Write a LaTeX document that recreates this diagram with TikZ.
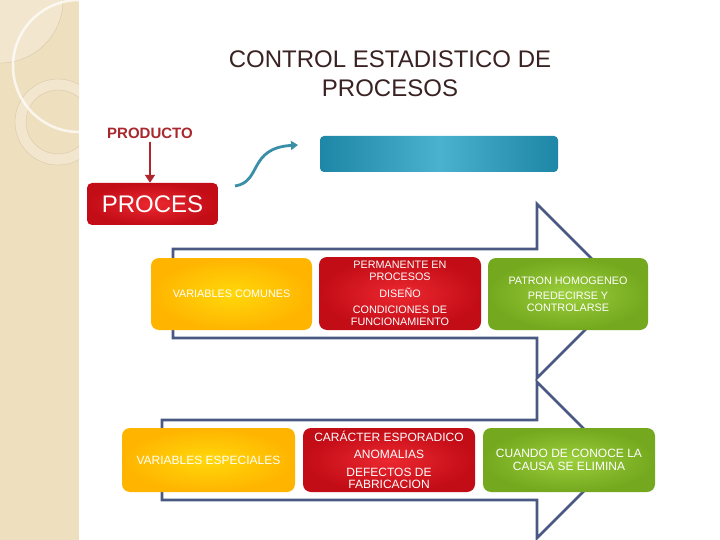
\documentclass[tikz,border=0pt]{standalone}
\usepackage{fontspec}
\setmainfont{Liberation Sans}
\usetikzlibrary{arrows.meta,shapes.misc}
\definecolor{strip}{HTML}{EEDFBF}
\definecolor{stripl}{HTML}{F2E6CE}
\definecolor{stripline}{HTML}{D9C8A8}
\definecolor{titlec}{HTML}{3B2222}
\definecolor{prodc}{HTML}{A8282E}
\definecolor{arrred}{HTML}{B0262E}
\definecolor{teal}{HTML}{3A8FA8}
\definecolor{tealdark}{HTML}{1E86A6}
\definecolor{teallight}{HTML}{4AB2CE}
\definecolor{navy}{HTML}{4A5884}
\definecolor{yin}{HTML}{FFD80A}
\definecolor{yout}{HTML}{FFB400}
\definecolor{rin}{HTML}{EC2830}
\definecolor{rout}{HTML}{C20C16}
\definecolor{gin}{HTML}{9CCF3C}
\definecolor{gout}{HTML}{74A81E}
\tikzset{
  card/.style={rounded corners=8pt, inner sep=0pt, align=center, text=white},
  ybox/.style={card, shade, inner color=yin, outer color=yout},
  rbox/.style={card, shade, inner color=rin, outer color=rout},
  gbox/.style={card, shade, inner color=gin, outer color=gout},
  bigarrow/.style={draw=navy, line width=2.6pt, line join=miter},
  smallfont/.style={font=\fontsize{10.8}{12.2}\selectfont},
  largefont/.style={font=\fontsize{12}{12.5}\selectfont},
}
\begin{document}
\begin{tikzpicture}[x=1pt,y=-1pt]
\useasboundingbox (0,0) rectangle (720,540);
\fill[white] (0,0) rectangle (720,540);
% left decorative strip
\begin{scope}
\clip (0,0) rectangle (79,540);
\fill[strip] (0,0) rectangle (79,540);
\fill[stripl] (0,0) circle[radius=63];
\draw[stripline, line width=0.4pt] (0,0) circle[radius=63];
\fill[stripl, even odd rule] (58,122) circle[radius=43] (58,122) circle[radius=32];
\draw[stripline, line width=0.4pt] (58,122) circle[radius=43];
\draw[stripline, line width=0.4pt] (58,122) circle[radius=32];
\draw[white, opacity=0.75, line width=2.5pt] (79,66) circle[radius=66];
\end{scope}
% title
\node[text=titlec, align=center, font=\fontsize{24}{29}\selectfont] (title) at (390,74) {CONTROL ESTADISTICO DE\\PROCESOS};
% producto
\node[text=prodc, font=\fontsize{15}{18}\selectfont\bfseries, inner sep=1pt] (prod) at (150,133) {PRODUCTO};
\node[rounded corners=5pt, shade, inner color=rin, outer color=rout, minimum width=131pt, minimum height=42pt, inner sep=0pt, text=white, font=\fontsize{24}{28}\selectfont] (proces) at (152.5,204) {PROCES};
\draw[arrred, line width=2.4pt, -{Triangle[length=8pt,width=10pt]}] ([yshift=-2pt]prod.south) -- (prod.south |- proces.north);
% teal bar
\node[rounded corners=4pt, shade, left color=tealdark, right color=tealdark, middle color=teallight, minimum width=238pt, minimum height=36pt, inner sep=0pt] (bar) at (439,154) {};
\coordinate (ts) at (235,186);
\coordinate (te) at (298,145);
\draw[teal, line width=2.8pt, -{Triangle[length=7pt,width=9pt]}] (ts) .. controls (262,182) and (248,148) .. (te);
% big outlined arrows
\draw[bigarrow] (173,249) -- (537,249) -- (537,204) -- (624,291) -- (537,378) -- (537,338) -- (173,338) -- cycle;
\draw[bigarrow] (162,420) -- (537,420) -- (537,382) -- (615,460) -- (537,538) -- (537,500) -- (162,500) -- cycle;
% top row
\node[ybox, smallfont, minimum width=161pt, minimum height=72pt] (yc) at (231.5,294) {VARIABLES COMUNES};
\node[rbox, smallfont, minimum width=162pt, minimum height=73pt] (rc) at (400,293.5) {PERMANENTE EN\\PROCESOS\\[4pt]DISEÑO\\[4pt]CONDICIONES DE\\FUNCIONAMIENTO};
\node[gbox, smallfont, minimum width=160pt, minimum height=72pt] (gc) at (568,294) {PATRON HOMOGENEO\\[3pt]PREDECIRSE Y\\CONTROLARSE};
% bottom row
\node[ybox, largefont, minimum width=173pt, minimum height=64pt] (ye) at (208.5,460) {VARIABLES ESPECIALES};
\node[rbox, largefont, minimum width=172pt, minimum height=64pt] (re) at (389,460) {CARÁCTER ESPORADICO\\[5pt]ANOMALIAS\\[5pt]DEFECTOS DE\\FABRICACION};
\node[gbox, largefont, minimum width=172pt, minimum height=64pt] (ge) at (569,460) {CUANDO DE CONOCE LA\\CAUSA SE ELIMINA};
\end{tikzpicture}
\end{document}
